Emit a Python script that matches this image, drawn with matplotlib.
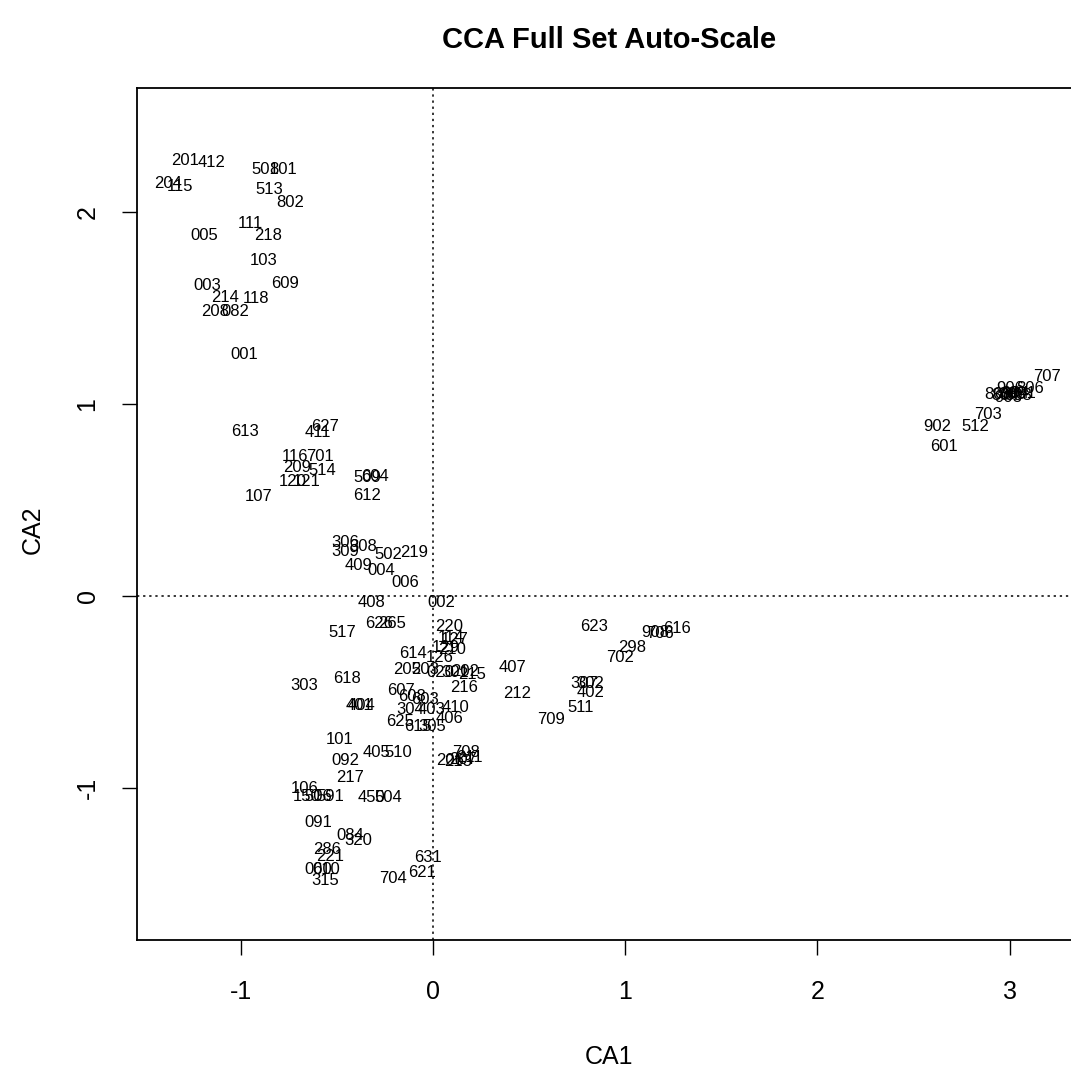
import matplotlib
matplotlib.use("Agg")
import matplotlib.pyplot as plt

"""
CCA site scores, labelled by site code (R style text plot)
"""

# site codes with their CA1 / CA2 scores
labels = [
    "201", "412", "204", "115", "501", "801", "513", "802", "005", "111",
    "218", "103", "609", "003", "214", "118", "208", "082", "001", "613",
    "411", "627", "116", "701", "209", "514", "120", "121", "107", "509",
    "604", "612", "306", "308", "309", "502", "219", "409", "004", "006",
    "408", "002", "626", "265", "517", "220", "114", "127", "129", "210",
    "614", "126", "205", "203", "020", "301", "202", "215", "216", "407",
    "212", "303", "618", "607", "608", "603", "404", "401", "304", "403",
    "410", "406", "625", "615", "305", "101", "405", "510", "092", "708",
    "206", "207", "211", "213", "217", "106", "150", "506", "591", "450",
    "504", "091", "084", "320", "286", "221", "060", "010", "315", "631",
    "621", "704",
    "623", "908", "706", "616", "298", "702", "307", "302", "402", "511",
    "709", "902", "512", "703", "601", "707", "906", "806", "803", "804",
    "805", "808", "901", "903", "904",
]

ca1 = [
    -1.290, -1.150, -1.378, -1.316, -0.874, -0.780, -0.853, -0.744, -1.191, -0.952,
    -0.858, -0.879, -0.770, -1.175, -1.082, -0.920, -1.134, -1.030, -0.983, -0.978,
    -0.598, -0.562, -0.718, -0.588, -0.707, -0.577, -0.728, -0.655, -0.905, -0.343,
    -0.302, -0.343, -0.458, -0.364, -0.458, -0.234, -0.099, -0.385, -0.270, -0.146,
    -0.317, 0.042, -0.281, -0.213, -0.473, 0.083, 0.094, 0.114, 0.068, 0.099,
    -0.104, 0.036, -0.135, -0.042, 0.036, 0.114, 0.166, 0.203, 0.161, 0.416,
    0.437, -0.671, -0.447, -0.166, -0.109, -0.042, -0.374, -0.380, -0.120, -0.005,
    0.120, 0.088, -0.172, -0.078, -0.005, -0.484, -0.291, -0.182, -0.458, 0.172,
    0.088, 0.156, 0.192, 0.130, -0.432, -0.666, -0.655, -0.598, -0.536, -0.317,
    -0.234, -0.598, -0.432, -0.390, -0.551, -0.536, -0.598, -0.556, -0.562, -0.026,
    -0.057, -0.208,
    0.837, 1.154, 1.180, 1.269, 1.035, 0.972, 0.785, 0.816, 0.822, 0.770,
    0.614, 2.621, 2.824, 2.886, 2.657, 3.193, 3.001, 3.105, 2.938, 2.975,
    3.011, 3.042, 3.063, 2.990, 3.027,
]

ca2 = [
    2.270, 2.260, 2.146, 2.135, 2.219, 2.219, 2.115, 2.047, 1.880, 1.938,
    1.880, 1.745, 1.630, 1.615, 1.552, 1.547, 1.484, 1.484, 1.260, 0.854,
    0.849, 0.885, 0.724, 0.724, 0.667, 0.651, 0.594, 0.594, 0.516, 0.615,
    0.620, 0.521, 0.276, 0.255, 0.234, 0.214, 0.224, 0.156, 0.135, 0.068,
    -0.036, -0.036, -0.146, -0.146, -0.193, -0.161, -0.214, -0.229, -0.266, -0.281,
    -0.302, -0.323, -0.385, -0.385, -0.401, -0.401, -0.396, -0.411, -0.479, -0.375,
    -0.510, -0.464, -0.432, -0.490, -0.526, -0.542, -0.573, -0.573, -0.594, -0.589,
    -0.583, -0.641, -0.656, -0.682, -0.682, -0.750, -0.813, -0.813, -0.859, -0.813,
    -0.859, -0.854, -0.844, -0.865, -0.948, -1.005, -1.047, -1.047, -1.047, -1.052,
    -1.052, -1.182, -1.250, -1.276, -1.323, -1.359, -1.427, -1.427, -1.484, -1.365,
    -1.438, -1.474,
    -0.161, -0.188, -0.198, -0.172, -0.271, -0.323, -0.458, -0.458, -0.505, -0.583,
    -0.646, 0.885, 0.880, 0.943, 0.776, 1.141, 1.078, 1.078, 1.047, 1.042,
    1.047, 1.042, 1.052, 1.036, 1.057,
]

xticks = [-1, 0, 1, 2, 3]
yticks = [-1, 0, 1, 2]

plt.rcParams['font.family'] = ['Liberation Sans', 'DejaVu Sans']

fig = plt.figure(figsize=(10.71, 10.74), dpi=100)
ax = fig.add_axes([0.128, 0.1248, 0.882, 0.7933])
ax.set_xlim(-1.539, 3.375)
ax.set_ylim(-1.792, 2.646)

for lab, x, y in zip(labels, ca1, ca2):
    ax.text(x, y, lab, ha='center', va='center', fontsize=12, color='black')

# dotted reference lines through the origin
ax.axhline(0, color='black', lw=1.1, ls=(0, (1.5, 2.5)))
ax.axvline(0, color='black', lw=1.1, ls=(0, (1.5, 2.5)))

for s in ax.spines.values():
    s.set_linewidth(1.3)

ax.set_xticks(xticks)
ax.set_yticks(yticks)
ax.set_xticklabels([str(t) for t in xticks])
ax.set_yticklabels([str(t) for t in yticks], rotation=90, va='center')
ax.tick_params(axis='both', length=11, width=1, labelsize=18, direction='out')
ax.tick_params(axis='x', pad=18)
ax.tick_params(axis='y', pad=16)

fig.text(0.569, 0.0158, 'CA1', ha='center', va='center', fontsize=18)
fig.text(0.031, 0.507, 'CA2', ha='center', va='center', fontsize=18, rotation=90)
fig.text(0.569, 0.963, 'CCA Full Set Auto-Scale', ha='center', va='center',
         fontsize=21, fontweight='bold')

fig.savefig('out.png', dpi=100)
